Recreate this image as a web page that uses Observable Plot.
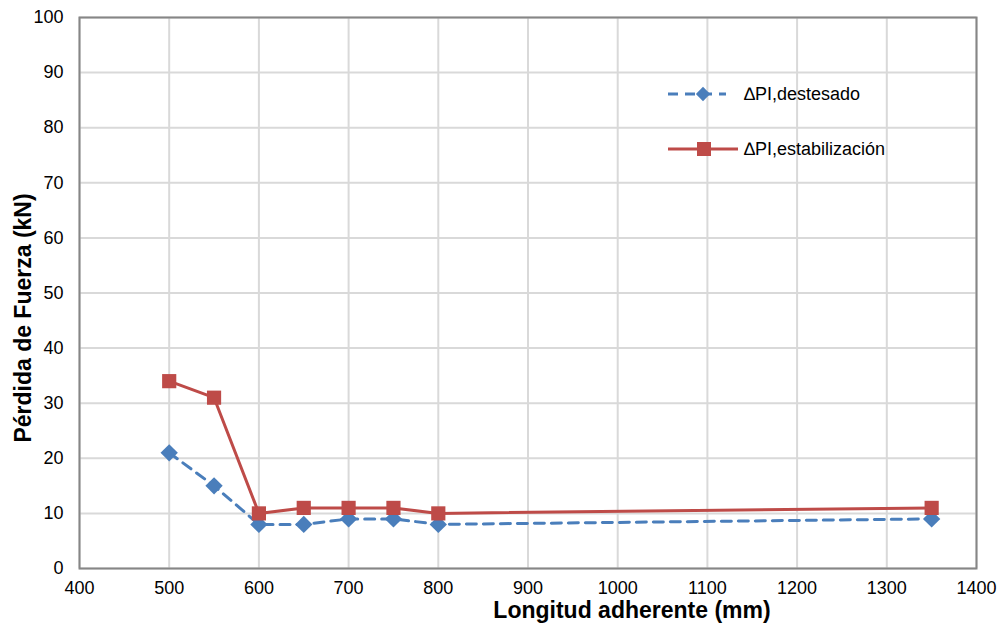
<!DOCTYPE html>
<html><head><meta charset="utf-8">
<script src="https://cdn.jsdelivr.net/npm/d3@7"></script>
<script src="https://cdn.jsdelivr.net/npm/@observablehq/plot@0.6"></script>
<style>body{margin:0;background:#fff;font-family:"Liberation Sans",Arial,sans-serif}</style>
</head><body><div id="chart"></div>
<script>
const longitudes = [500, 550, 600, 650, 700, 750, 800, 1350];
const destesado = [21, 15, 8, 8, 9, 9, 8, 9];
const estabilizacion = [34, 31, 10, 11, 11, 11, 10, 11];
const seriesNames = ["\u2206PI,destesado", "\u2206PI,estabilización"];
const xTicks = [400,500,600,700,800,900,1000,1100,1200,1300,1400];
const yTicks = [0,10,20,30,40,50,60,70,80,90,100];

const dDest = longitudes.map((x,i)=>({x, y: destesado[i]}));
const dEst = longitudes.map((x,i)=>({x, y: estabilizacion[i]}));
const blue = "#4a7ebb", red = "#be4b48";

const chart = Plot.plot({
  width: 1000, height: 633,
  marginLeft: 79, marginRight: 24, marginTop: 17, marginBottom: 65,
  style: {fontFamily: "'Liberation Sans', Arial, sans-serif", fontSize: "18px", color: "#000"},
  x: {domain: [400, 1400], ticks: xTicks, label: null, tickFormat: d => String(d)},
  y: {domain: [0, 100], ticks: yTicks, label: null, tickFormat: d => String(d)},
  marks: [
    Plot.gridX(xTicks, {stroke: "#d9d9d9", strokeOpacity: 1, strokeWidth: 2}),
    Plot.gridY(yTicks, {stroke: "#d9d9d9", strokeOpacity: 1, strokeWidth: 2}),
    Plot.frame({stroke: "#868686", strokeWidth: 2}),
    Plot.axisX(xTicks, {tickSize: 0, tickPadding: 13, fontSize: 18, fill: "#000", tickFormat: d => String(d)}),
    Plot.axisY(yTicks, {tickSize: 0, tickPadding: 16, fontSize: 18, fill: "#000", tickFormat: d => String(d)}),
    Plot.line(dDest, {x: "x", y: "y", stroke: blue, strokeWidth: 3, strokeDasharray: "10,7"}),
    Plot.line(dEst, {x: "x", y: "y", stroke: red, strokeWidth: 3}),
    Plot.dot(dDest, {x: "x", y: "y", symbol: "diamond2", r: 7.8, fill: blue, stroke: null}),
    Plot.dot(dEst, {x: "x", y: "y", symbol: "square", r: 8, fill: red, stroke: null}),
    Plot.text(["Longitud adherente (mm)"], {frameAnchor: "bottom", dx: 104, dy: 49, fontSize: 23, fontWeight: "bold", fill: "#000"}),
    Plot.text(["Pérdida de Fuerza (kN)"], {frameAnchor: "left", textAnchor: "middle", dx: -56, dy: 25, rotate: -90, fontSize: 23, fontWeight: "bold", fill: "#000"})
  ]
});
document.getElementById("chart").appendChild(chart);

// Legend inside plot area
const svg = d3.select(chart);
const lg = svg.append("g").attr("font-family", "'Liberation Sans', Arial, sans-serif").attr("font-size", 18).attr("text-anchor", "start");
const items = [
  {name: seriesNames[0], color: blue, dash: "10,7", y: 94, sym: "diamond", x2: 726},
  {name: seriesNames[1], color: red, dash: null, y: 149, sym: "square", x2: 738}
];
items.forEach(it => {
  lg.append("line").attr("x1", 668).attr("x2", it.x2).attr("y1", it.y).attr("y2", it.y)
    .attr("stroke", it.color).attr("stroke-width", 3).attr("stroke-dasharray", it.dash);
  if (it.sym === "diamond") {
    lg.append("path").attr("d", d3.symbol(d3.symbolDiamond2, 130)()).attr("transform", `translate(703,${it.y})`).attr("fill", it.color);
  } else {
    lg.append("rect").attr("x", 697).attr("y", it.y - 7).attr("width", 14).attr("height", 14).attr("fill", it.color);
  }
  lg.append("text").attr("x", 744).attr("y", it.y).attr("dy", "0.35em").attr("fill", "#000").attr("text-anchor", "start").text(it.name);
});
</script></body></html>
